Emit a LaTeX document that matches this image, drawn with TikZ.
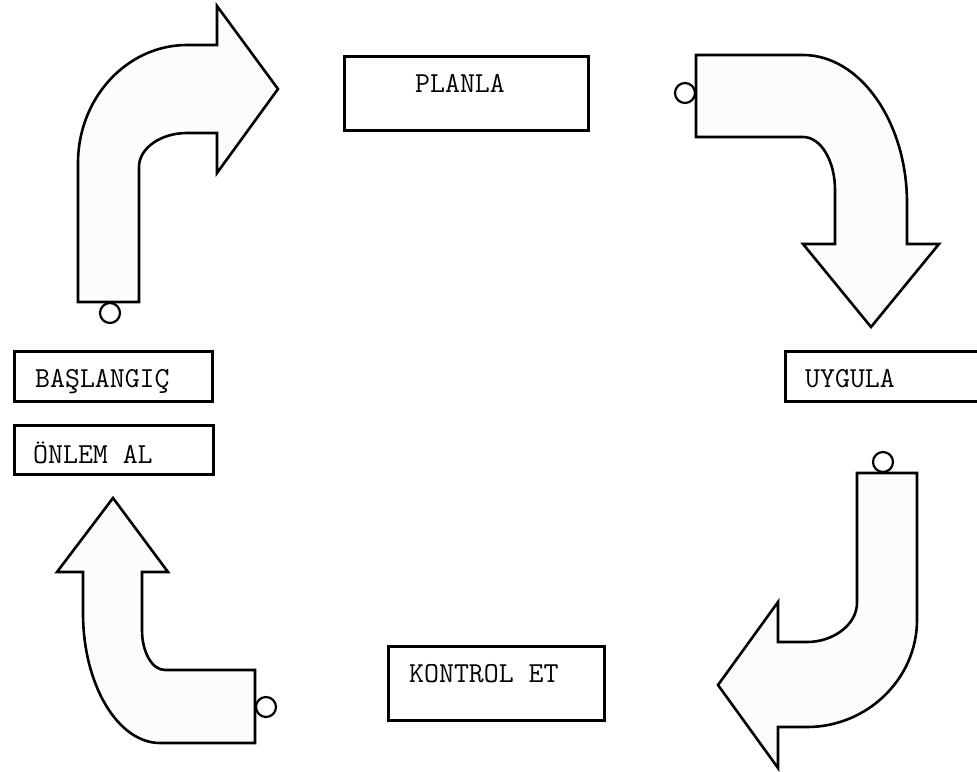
\documentclass[tikz,border=0pt]{standalone}
\usepackage{fontspec}
\newcommand\boxtext[1]{{\ttfamily\fontsize{29}{31}\selectfont #1}}
\tikzset{
  arrowshape/.style={draw=black, line width=2.6pt, fill=white!99!black, line join=miter},
  knob/.style={draw=black, line width=2.2pt, fill=white},
  boxframe/.style={draw=black, line width=3.2pt, fill=white, rectangle, inner sep=0pt, anchor=north west},
  lbl/.style={inner sep=0pt, anchor=base west, text=black}
}
\begin{document}
\begin{tikzpicture}[x=1pt, y=-1pt]
\useasboundingbox[fill=white] (0,0) rectangle (977,771);

% top-left arrow (points right)
\draw[arrowshape] (78,302) -- (78,163) .. controls (78,98) and (127,45) .. (187,45) -- (217,45) -- (217,6) -- (278,89) -- (217,173) -- (217,133) -- (187,133) .. controls (161,133) and (139,148) .. (139,167) -- (139,302) -- cycle;
\draw[knob] (110,313) circle (10);

% top-right arrow (points down)
\draw[arrowshape] (696,55) -- (803,55) .. controls (860,55) and (907,122) .. (907,203) -- (907,244) -- (939,244) -- (871,327) -- (803,244) -- (835,244) -- (835,190) .. controls (835,161) and (821,137) .. (803,137) -- (696,137) -- cycle;
\draw[knob] (685,93) circle (10);

% bottom-right arrow (points left)
\draw[arrowshape] (857,473) -- (917,473) -- (917,620) .. controls (917,679) and (867,727) .. (807,727) -- (778,727) -- (778,768) -- (718,685) -- (778,602) -- (778,642) -- (807,642) .. controls (834,642) and (857,624) .. (857,603) -- cycle;
\draw[knob] (883,462) circle (10);

% bottom-left arrow (points up)
\draw[arrowshape] (255,743) -- (160,743) .. controls (118,743) and (83,685) .. (83,613) -- (83,572) -- (57,572) -- (113,498) -- (168,572) -- (142,572) -- (142,630) .. controls (142,652) and (152,670) .. (165,670) -- (255,670) -- cycle;
\draw[knob] (266,707) circle (10);

% boxes
\node[boxframe, minimum width=244pt, minimum height=74pt] (plan) at (343,55) {};
\node[lbl] (plant) at (415,92) {\boxtext{PLANLA}};

\node[boxframe, minimum width=210pt, minimum height=50pt] (uyg) at (784,350) {};
\node[lbl] (uygt) at (805,387) {\boxtext{UYGULA}};

\node[boxframe, minimum width=216pt, minimum height=74pt] (kont) at (387,645) {};
\node[lbl] (kontt) at (409,682) {\boxtext{KONTROL ET}};

\node[boxframe, minimum width=198pt, minimum height=50pt] (bas) at (13,350) {};
\node[lbl] (bast) at (35,387) {\boxtext{BAŞLANGIÇ}};

\node[boxframe, minimum width=199pt, minimum height=49pt] (onl) at (13,424) {};
\node[lbl] (onlt) at (33,463) {\boxtext{ÖNLEM AL}};
\end{tikzpicture}
\end{document}
